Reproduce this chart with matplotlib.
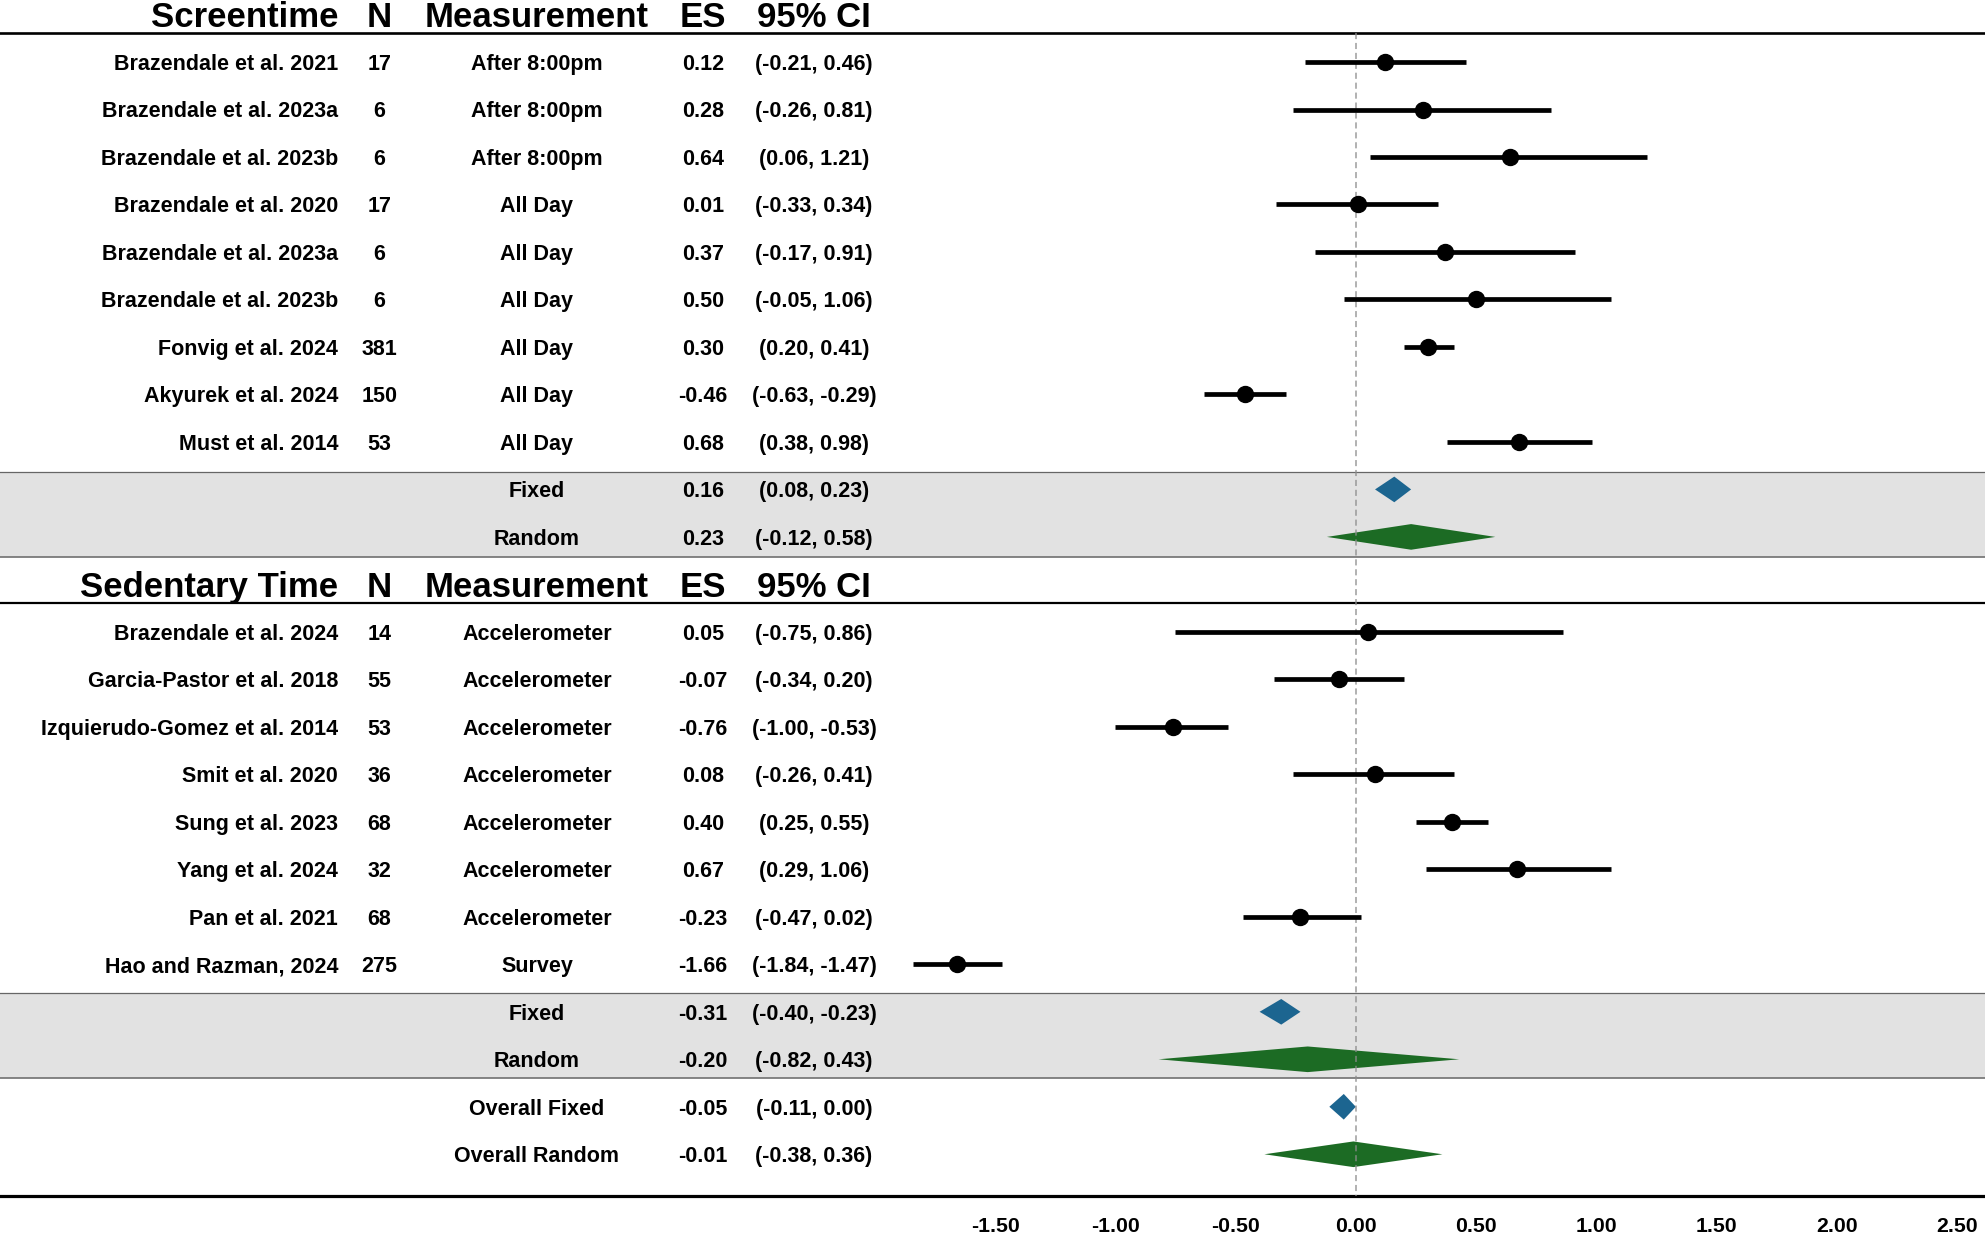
import matplotlib
matplotlib.use("Agg")
import matplotlib.pyplot as plt
from matplotlib.patches import Rectangle

plt.rcParams['font.family'] = ['Liberation Sans', 'DejaVu Sans']
plt.rcParams['font.weight'] = 'bold'

# ---------------- data ----------------
screen_studies = ["Brazendale et al. 2021", "Brazendale et al. 2023a", "Brazendale et al. 2023b",
                  "Brazendale et al. 2020", "Brazendale et al. 2023a", "Brazendale et al. 2023b",
                  "Fonvig et al. 2024", "Akyurek et al. 2024", "Must et al. 2014"]
screen_n = [17, 6, 6, 17, 6, 6, 381, 150, 53]
screen_meas = ["After 8:00pm", "After 8:00pm", "After 8:00pm", "All Day", "All Day",
               "All Day", "All Day", "All Day", "All Day"]
screen_es = [0.12, 0.28, 0.64, 0.01, 0.37, 0.50, 0.30, -0.46, 0.68]
screen_lo = [-0.21, -0.26, 0.06, -0.33, -0.17, -0.05, 0.20, -0.63, 0.38]
screen_hi = [0.46, 0.81, 1.21, 0.34, 0.91, 1.06, 0.41, -0.29, 0.98]
screen_summary_labels = ["Fixed", "Random"]
screen_summary_es = [0.16, 0.23]
screen_summary_lo = [0.08, -0.12]
screen_summary_hi = [0.23, 0.58]

sed_studies = ["Brazendale et al. 2024", "Garcia-Pastor et al. 2018", "Izquierudo-Gomez et al. 2014",
               "Smit et al. 2020", "Sung et al. 2023", "Yang et al. 2024", "Pan et al. 2021",
               "Hao and Razman, 2024"]
sed_n = [14, 55, 53, 36, 68, 32, 68, 275]
sed_meas = ["Accelerometer", "Accelerometer", "Accelerometer", "Accelerometer", "Accelerometer",
            "Accelerometer", "Accelerometer", "Survey"]
sed_es = [0.05, -0.07, -0.76, 0.08, 0.40, 0.67, -0.23, -1.66]
sed_lo = [-0.75, -0.34, -1.00, -0.26, 0.25, 0.29, -0.47, -1.84]
sed_hi = [0.86, 0.20, -0.53, 0.41, 0.55, 1.06, 0.02, -1.47]
sed_summary_labels = ["Fixed", "Random"]
sed_summary_es = [-0.31, -0.20]
sed_summary_lo = [-0.40, -0.82]
sed_summary_hi = [-0.23, 0.43]

overall_labels = ["Overall Fixed", "Overall Random"]
overall_es = [-0.05, -0.01]
overall_lo = [-0.11, -0.38]
overall_hi = [0.00, 0.36]

headers = ["N", "Measurement", "ES", "95% CI"]
section_titles = ["Screentime", "Sedentary Time"]
tick_values = [-1.5, -1.0, -0.5, 0.0, 0.5, 1.0, 1.5, 2.0, 2.5]
tick_labels = ["-1.50", "-1.00", "-0.50", "0.00", "0.50", "1.00", "1.50", "2.00", "2.50"]

# ---------------- style ----------------
FIXED_COLOR = '#1c6590'
RANDOM_COLOR = '#1c6b24'
BAND_COLOR = '#e2e2e2'
ROW_FS = 15.5
HEAD_FS = 25
# column x positions (axes fraction)
X_STUDY = 0.1703
X_N = 0.1910
X_MEAS = 0.2705
X_ES = 0.3542
X_CI = 0.4101

fig = plt.figure(figsize=(19.85, 12.35), dpi=100)
ax = fig.add_axes([0, 0, 1, 1])
ax.set_xlim(-5.637, 2.616)
ax.set_ylim(25.70, -0.306)
for s in ax.spines.values():
    s.set_visible(False)
ax.set_yticks([])
ax.set_xticks(tick_values)
ax.set_xticklabels(tick_labels, fontsize=15.3, fontweight='bold')
ax.tick_params(axis='x', length=0, pad=-13)

tr = ax.get_yaxis_transform()  # x in axes fraction, y in data
BASE = 0.165  # baseline offset of row text


def row_text(y, study, n, meas, es, lo, hi):
    if study:
        ax.text(X_STUDY, y + BASE, study, transform=tr, ha='right', va='baseline',
                fontsize=ROW_FS, fontweight='bold')
    if n is not None:
        ax.text(X_N, y + BASE, str(n), transform=tr, ha='center', va='baseline',
                fontsize=ROW_FS, fontweight='bold')
    ax.text(X_MEAS, y + BASE, meas, transform=tr, ha='center', va='baseline',
            fontsize=ROW_FS, fontweight='bold')
    ax.text(X_ES, y + BASE, f"{es:.2f}", transform=tr, ha='center', va='baseline',
            fontsize=ROW_FS, fontweight='bold')
    ax.text(X_CI, y + BASE, f"({lo:.2f}, {hi:.2f})", transform=tr, ha='center',
            va='baseline', fontsize=ROW_FS, fontweight='bold')


def header(y, title):
    yb = y + 0.27
    ax.text(X_STUDY, yb, title, transform=tr, ha='right', va='baseline',
            fontsize=HEAD_FS, fontweight='bold')
    for xx, h in zip([X_N, X_MEAS, X_ES, X_CI], headers):
        ax.text(xx, yb, h, transform=tr, ha='center', va='baseline',
                fontsize=HEAD_FS, fontweight='bold')


def study(y, es, lo, hi):
    ax.plot([lo, hi], [y, y], color='black', lw=3.4, solid_capstyle='butt', zorder=3)
    ax.plot([es], [y], 'o', color='black', ms=11.5, zorder=4)


def diamond(y, es, lo, hi, color, h=0.27):
    ax.fill([lo, es, hi, es], [y, y - h, y, y + h], color=color, lw=0, zorder=2)


def band(y0, y1):
    ax.add_patch(Rectangle((0, y0), 1, y1 - y0, transform=tr, facecolor=BAND_COLOR,
                           edgecolor='none', zorder=0))
    ax.plot([0, 1], [y0, y0], transform=tr, color='#666666', lw=0.9, zorder=1)
    ax.plot([0, 1], [y1, y1], transform=tr, color='#707070', lw=1.2, zorder=1)


# ---- Screentime section ----
header(0, section_titles[0])
ax.plot([0, 1], [0.382, 0.382], transform=tr, color='black', lw=1.9, zorder=1)
y = 1
for i in range(len(screen_studies)):
    row_text(y, screen_studies[i], screen_n[i], screen_meas[i], screen_es[i],
             screen_lo[i], screen_hi[i])
    study(y, screen_es[i], screen_lo[i], screen_hi[i])
    y += 1
band(y - 0.37, y + 1.42)
for j, lab in enumerate(screen_summary_labels):
    row_text(y, None, None, lab, screen_summary_es[j], screen_summary_lo[j], screen_summary_hi[j])
    diamond(y, screen_summary_es[j], screen_summary_lo[j], screen_summary_hi[j],
            FIXED_COLOR if j == 0 else RANDOM_COLOR)
    y += 1

# ---- Sedentary section ----
header(y, section_titles[1])
ax.plot([0, 1], [y + 0.39, y + 0.39], transform=tr, color='black', lw=1.6, zorder=1)
y += 1
for i in range(len(sed_studies)):
    row_text(y, sed_studies[i], sed_n[i], sed_meas[i], sed_es[i], sed_lo[i], sed_hi[i])
    study(y, sed_es[i], sed_lo[i], sed_hi[i])
    y += 1
band(y - 0.39, y + 1.40)
for j, lab in enumerate(sed_summary_labels):
    row_text(y, None, None, lab, sed_summary_es[j], sed_summary_lo[j], sed_summary_hi[j])
    diamond(y, sed_summary_es[j], sed_summary_lo[j], sed_summary_hi[j],
            FIXED_COLOR if j == 0 else RANDOM_COLOR)
    y += 1

# ---- Overall ----
for j, lab in enumerate(overall_labels):
    row_text(y, None, None, lab, overall_es[j], overall_lo[j], overall_hi[j])
    diamond(y, overall_es[j], overall_lo[j], overall_hi[j],
            FIXED_COLOR if j == 0 else RANDOM_COLOR)
    y += 1

bottom = y - 0.12
ax.plot([0, 1], [bottom, bottom], transform=tr, color='black', lw=2.3, zorder=1)

# null line
ax.plot([0, 0], [0.382, bottom], color='#8c8c8c', lw=1.1, ls=(0, (4, 2.5)),
        alpha=0.85, zorder=2.5)

fig.savefig("out.png", dpi=100)
